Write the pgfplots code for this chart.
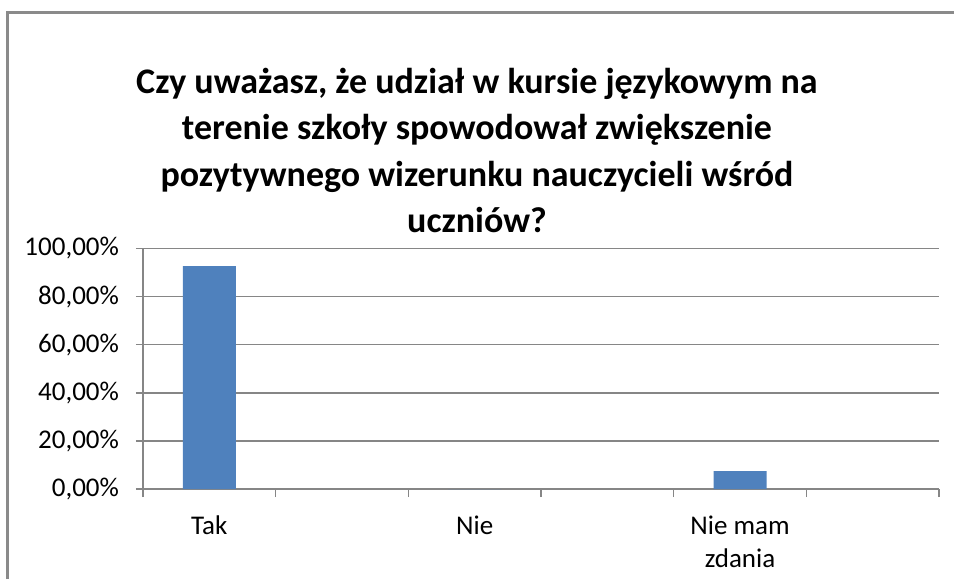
\documentclass[border=0pt]{standalone}
\usepackage{pgfplots}
\pgfplotsset{compat=1.18}
\usepackage{fontspec}
\setmainfont{Carlito}
\definecolor{barblue}{HTML}{4F81BD}
\definecolor{gridgray}{HTML}{868686}
\definecolor{framegray}{HTML}{8A8A8A}
\begin{document}
\begin{tikzpicture}
\useasboundingbox (0pt,0pt) rectangle (477pt,289.5pt);
\draw[framegray,line width=1.2pt] (3.75pt,0pt) -- (3.75pt,283.25pt) -- (477pt,283.25pt);
\node[align=center,font={\fontsize{18}{23.25}\selectfont\bfseries}] at (238.5pt,214.3pt)
  {Czy uważasz, że udział w kursie językowym na\\terenie szkoły spowodował zwiększenie\\pozytywnego wizerunku nauczycieli wśród\\uczniów?};
\begin{axis}[
  at={(71.5pt,45pt)}, anchor=south west,
  scale only axis, width=398pt, height=120.3pt,
  xmin=-0.5, xmax=5.5, ymin=0, ymax=100,
  axis lines*=left,
  axis line style={gridgray,line width=0.8pt},
  ymajorgrids, grid style={gridgray,line width=0.8pt},
  ytick={0,20,...,100},
  xtick={0,2,4},
  xticklabels={Tak,Nie,{Nie mam\\zdania}},
  minor xtick={-0.5,0.5,...,5.5},
  tick align=outside,
  major tick length=3.5pt, minor tick length=4pt,
  major x tick style={draw=none},
  minor x tick style={draw=gridgray,line width=0.8pt},
  ytick style={gridgray,line width=0.8pt},
  /pgf/number format/assume math mode=true,
  yticklabel={\pgfmathprintnumber[fixed,fixed zerofill,precision=2,use comma]{\tick}\%},
  ticklabel style={font={\fontsize{13.5}{16.5}\selectfont}},
  yticklabel style={xshift=-5pt},
  xticklabel style={align=center,yshift=-6.5pt},
  ybar, bar width=26.5pt,
]
\addplot[fill=barblue,draw=none] coordinates {(0,92.59) (2,0) (4,7.41)};
\end{axis}
\end{tikzpicture}
\end{document}
